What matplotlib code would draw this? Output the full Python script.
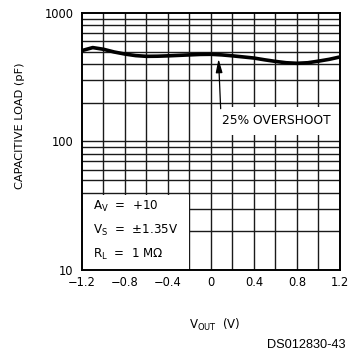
import numpy as np
import matplotlib
matplotlib.use("Agg")
import matplotlib.pyplot as plt
from matplotlib.patches import Rectangle

# curve
vout = [-1.2, -1.1, -1.0, -0.9, -0.8, -0.7, -0.6, -0.5, -0.4, -0.3, -0.2, -0.1,
        0.0, 0.1, 0.2, 0.3, 0.4, 0.5, 0.6, 0.7, 0.8, 0.9, 1.0, 1.1, 1.2]
cload = [510, 538, 522, 497, 479, 466, 460, 461, 464, 468, 472, 476,
         477, 472, 464, 455, 446, 432, 420, 410, 406, 410, 422, 436, 455]

xticks = [-1.2, -0.8, -0.4, 0, 0.4, 0.8, 1.2]
xtick_labels = ["\u22121.2", "\u22120.8", "\u22120.4", "0", "0.4", "0.8", "1.2"]
yticks = [10, 100, 1000]
ytick_labels = ["10", "100", "1000"]
conditions = [r"$\mathregular{A_V}$  =  +10",
              r"$\mathregular{V_S}$  =  $\pm$1.35V",
              r"$\mathregular{R_L}$  =  1 M$\Omega$"]

plt.rcParams['font.family'] = ['DejaVu Sans']
fs = 8

fig = plt.figure(figsize=(3.48, 3.54), dpi=100)
ax = fig.add_axes([0.2356, 0.2373, 0.7414, 0.726])
ax.set_yscale('log')
ax.set_xlim(-1.2, 1.2)
ax.set_ylim(10, 1000)

# grid lines
gkw = dict(color='#1a1a1a', lw=1.0, zorder=1)
for xv in np.arange(-1.0, 1.2, 0.2):
    ax.axvline(xv, **gkw)
for dec in [10, 100]:
    for m in range(1, 10):
        if m == 1 and dec == 10:
            continue
        ax.axhline(dec * m, **gkw)

# white boxes that hide the grid
ax.add_patch(Rectangle((-1.19, 10), 0.99, 28.5, facecolor='white', edgecolor='none', zorder=2))
ax.add_patch(Rectangle((0.1, 113), 1.1, 72, facecolor='white', edgecolor='none', zorder=2))

ax.plot(vout, cload, color='black', lw=2.6, zorder=4, solid_capstyle='butt')

ax.annotate("", xy=(0.07, 440), xytext=(0.09, 180),
            arrowprops=dict(arrowstyle='-|>,head_width=0.22,head_length=0.9',
                            color='black', lw=0.9,
                            mutation_scale=9, shrinkA=0, shrinkB=0), zorder=5)
ax.text(0.105, 145, "25% OVERSHOOT", fontsize=8.8, va='center', ha='left', zorder=5)

for i, s in enumerate(conditions):
    ax.text(-1.1, 31 * 0.655 ** i, s, fontsize=8.6, va='center', ha='left', zorder=5)

ax.set_xticks(xticks)
ax.set_xticklabels(xtick_labels)
ax.set_yticks(yticks)
ax.set_yticklabels(ytick_labels)
ax.minorticks_off()
ax.tick_params(length=0, labelsize=8.3)
ax.tick_params(axis='y', pad=6)
ax.tick_params(axis='x', pad=4)
for sp in ax.spines.values():
    sp.set_linewidth(1.4)
    sp.set_zorder(6)

ax.set_ylabel("CAPACITIVE LOAD (pF)", fontsize=8.2)
ax.yaxis.set_label_coords(-0.222, 0.56)
ax.set_xlabel(r"$\mathregular{V_{OUT}}$  (V)", fontsize=8.5)
ax.xaxis.set_label_coords(0.515, -0.183)

fig.text(0.992, 0.025, "DS012830-43", fontsize=9.2, ha='right', va='center',
         family='Liberation Sans')

fig.savefig("out.png", dpi=100)
